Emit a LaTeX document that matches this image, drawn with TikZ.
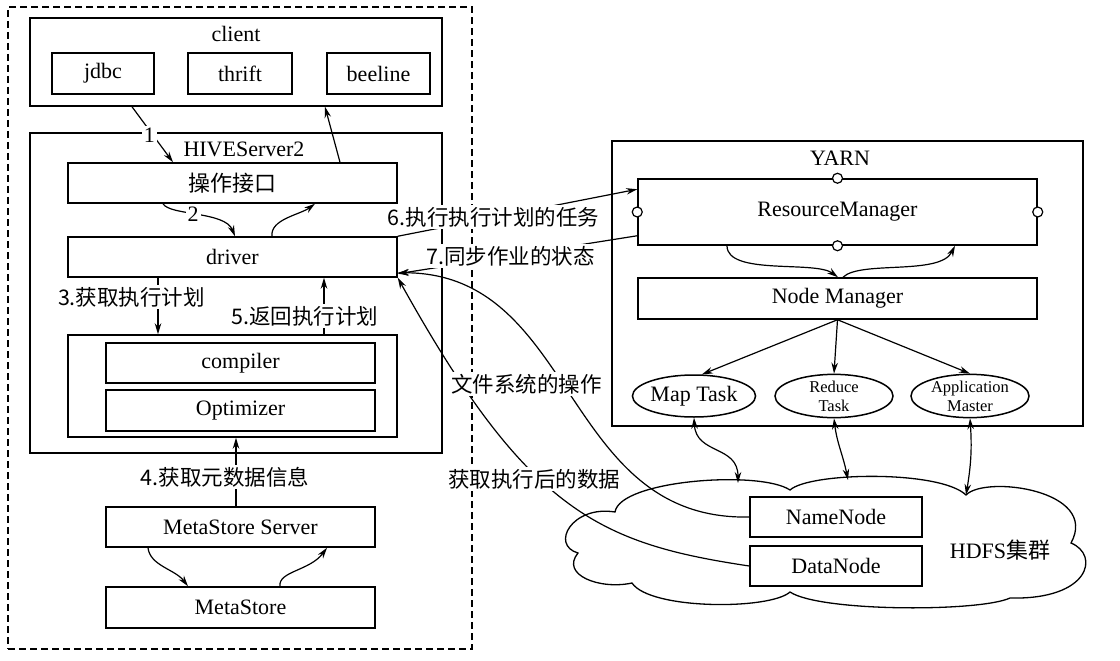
\documentclass[tikz,border=0pt]{standalone}
\usepackage{fontspec}
\setmainfont{Liberation Serif}
\newfontfamily\cjk{Noto Sans CJK SC}
\usetikzlibrary{arrows.meta,calc,shapes.geometric}
\begin{document}
\begin{tikzpicture}[x=1pt,y=1pt,
  box/.style={draw,line width=1.5pt,minimum height=40pt,inner sep=0pt,font=\fontsize{22}{24}\selectfont},
  frame/.style={draw,line width=1.5pt,inner sep=0pt},
  ttl/.style={inner sep=0pt,font=\fontsize{22}{24}\selectfont},
  lab/.style={fill=white,inner sep=2pt,font=\cjk\fontsize{21.5}{23}\selectfont},
  nlab/.style={fill=white,inner sep=2pt,font=\fontsize{22}{24}\selectfont},
  arr/.style={line width=1.2pt,-{Stealth[length=11pt,width=6.5pt]}},
  dbl/.style={line width=1.2pt,{Stealth[length=11pt,width=6.5pt]}-{Stealth[length=11pt,width=6.5pt]}},
  ell/.style={draw,ellipse,line width=1.5pt,minimum width=118pt,minimum height=42pt,inner sep=0pt,align=center},
  port/.style={circle,draw,fill=white,line width=1.2pt,minimum size=10pt,inner sep=0pt}
]
\useasboundingbox (0,0) rectangle (1120,-661);

% left dashed frame
\node[draw,line width=1.2pt,dash pattern=on 7pt off 4pt,minimum width=464pt,minimum height=642pt,inner sep=0pt] (outer) at (240,-328) {};

% client
\node[frame,minimum width=412pt,minimum height=88pt] (client) at (236,-62) {};
\node[ttl] (clientt) at ([yshift=-17pt]client.north) {client};
\node[box,minimum width=102pt,minimum height=41pt] (jdbc) at (103,-73.5) {jdbc};
\node[box,minimum width=104pt,minimum height=41pt] (thrift) at (240,-73.5) {thrift};
\node[box,minimum width=103pt,minimum height=41pt] (beeline) at (378.5,-73.5) {beeline};

% HIVEServer2
\node[frame,minimum width=412pt,minimum height=320pt] (hive) at (236,-293) {};
\node[ttl] (hivet) at (244,-149) {HIVEServer2};
\node[box,minimum width=329pt,font=\cjk\fontsize{22}{24}\selectfont] (op) at (232.5,-183) {操作接口};
\node[box,minimum width=329pt] (driver) at (232.5,-257) {driver};
\node[frame,minimum width=329pt,minimum height=102pt] (inner) at (232.5,-386) {};
\node[box,minimum width=269pt] (compiler) at (240.5,-363) {compiler};
\node[box,minimum width=269pt,minimum height=41pt] (optim) at (240.5,-410.5) {Optimizer};

% metastore
\node[box,minimum width=269pt] (MSS) at (240.5,-527) {MetaStore Server};
\node[box,minimum width=269pt,minimum height=41pt] (MS) at (240.5,-607.5) {MetaStore};

% YARN
\node[frame,minimum width=471pt,minimum height=285pt] (yarn) at (847.5,-283.5) {};
\node[ttl] (yarnt) at (840,-158) {YARN};
\node[box,minimum width=399pt,minimum height=66pt] (RM) at (837.5,-212) {ResourceManager};
\node[box,minimum width=399pt,minimum height=41pt] (NM) at (837.5,-298.5) {Node Manager};
\node[ell,font=\fontsize{22}{24}\selectfont] (map) at (694,-396) {Map Task};
\node[ell,font=\fontsize{16.5}{19}\selectfont] (reduce) at (834,-396) {Reduce\\Task};
\node[ell,font=\fontsize{16.5}{19}\selectfont] (app) at (970,-396) {Application\\Master};

% HDFS cloud
\draw[line width=1.3pt] (615,-512) .. controls (620,-480) and (760,-470) .. (790,-490)
 .. controls (810,-472) and (940,-470) .. (966,-495)
 .. controls (985,-475) and (1100,-490) .. (1071,-543)
 .. controls (1100,-555) and (1090,-600) .. (1010,-598)
 .. controls (980,-612) and (820,-612) .. (790,-592)
 .. controls (770,-610) and (650,-610) .. (632,-583)
 .. controls (600,-590) and (560,-575) .. (578,-553)
 .. controls (550,-545) and (572,-505) .. cycle;
\node[box,minimum width=172pt,fill=white] (NN) at (836,-517) {NameNode};
\node[box,minimum width=172pt,fill=white] (DN) at (836,-566) {DataNode};
\node[ttl] (hdfs) at (1000,-550) {HDFS{\cjk 集群}};
\coordinate (h1) at (738,-483);
\coordinate (h2) at (848,-480);
\coordinate (h3) at (966,-495);

% client <-> HIVEServer2
\draw[arr] ([xshift=-104pt]client.south) -- node[nlab,pos=0.52,xshift=-4pt]{1} ([xshift=-59.5pt]op.north);
\draw[arr] ([xshift=107.5pt]op.north) -- ([xshift=89pt]client.south);
\draw[arr] ([xshift=-69.5pt]op.south) .. controls +(7,-12) and +(-10,25) .. node[nlab,pos=0.45]{2} ([xshift=2.5pt]driver.north);
\draw[arr] ([xshift=39.5pt]driver.north) .. controls +(-2,17) and +(-15,-11) .. ([xshift=82.5pt]op.south);
\draw[arr] ([xshift=-74.5pt]driver.south) -- node[lab,xshift=-26.5pt,yshift=9pt]{3.获取执行计划} ([xshift=-74.5pt]inner.north);
\draw[arr] ([xshift=91.5pt]inner.north) -- node[lab,xshift=-19pt,yshift=-10pt]{5.返回执行计划} ([xshift=91.5pt]driver.south);
\draw[arr] ([xshift=-4.5pt]MSS.north) -- node[lab,xshift=-11pt,yshift=-5pt]{4.获取元数据信息} ([xshift=3.5pt]inner.south);
\draw[arr] ([xshift=-92.5pt]MSS.south) .. controls +(2,-18) and +(-13,17) .. ([xshift=-52.5pt]MS.north);
\draw[arr] ([xshift=39.5pt]MS.north) .. controls +(-2,15) and +(-17,-23) .. ([xshift=86.5pt]MSS.south);

% driver <-> YARN
\draw[arr] (driver.north east) -- node[lab,pos=0.40]{6.执行执行计划的任务} ([yshift=-11pt]RM.north west);
\draw[arr] ([yshift=10pt]RM.south west) -- node[lab,pos=0.53]{7.同步作业的状态} ([yshift=4pt]driver.south east);

% driver <-> HDFS
\draw[arr] (DN.west) .. controls +(-150,22.5) and +(130,-234) .. node[lab,pos=0.55,xshift=-16pt,yshift=9pt]{获取执行后的数据} (driver.south east);
\draw[arr] (NN.west) .. controls +(-188,-4) and +(180,0) .. node[lab,pos=0.5,xshift=-44pt,yshift=12pt]{文件系统的操作} ([yshift=5pt]driver.south east);

% YARN internals
\node[port] (p1) at (RM.north) {};
\node[port] (p2) at (RM.south) {};
\node[port] (p3) at (RM.west) {};
\node[port] (p4) at (RM.east) {};
\draw[arr] ([xshift=-110.5pt]RM.south) .. controls +(0,-30) and +(-23,17) .. ([xshift=0.5pt]NM.north);
\draw[arr] ([xshift=5.5pt]NM.north) .. controls +(17,17) and +(-15,-30) .. ([xshift=117.5pt]RM.south);
\draw[arr] (NM.south) -- (map.70);
\draw[arr] (NM.south) -- (reduce.north);
\draw[arr] (NM.south) -- (app.north);

% tasks <-> HDFS
\draw[dbl] (map.south) .. controls +(2,-37) and +(0,38) .. (h1);
\draw[dbl] (reduce.south) .. controls +(3,-25) and +(-5,25) .. (h2);
\draw[dbl] (app.south) .. controls +(2,-30) and +(5,30) .. (h3);
\end{tikzpicture}
\end{document}
